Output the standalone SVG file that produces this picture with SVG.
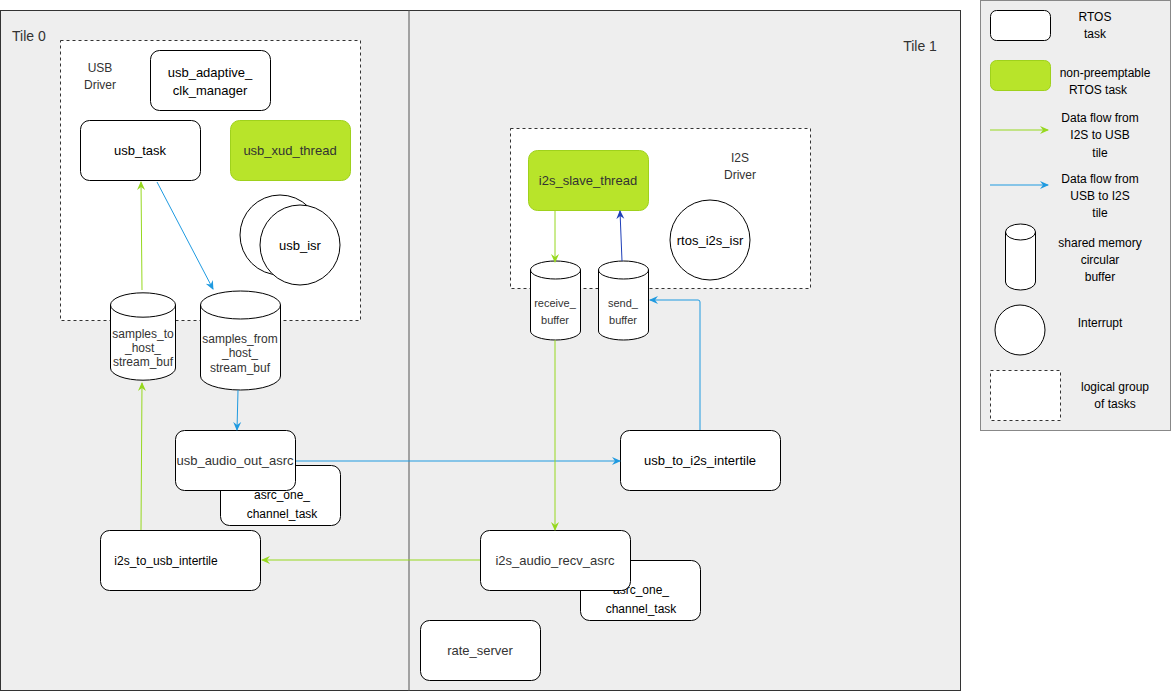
<svg xmlns="http://www.w3.org/2000/svg" width="1171" height="695" viewBox="0 0 1171 695">
<style>
text{font-family:"Liberation Sans",Arial,sans-serif;font-size:13px;fill:#000;text-anchor:middle}
.t{fill:#fff;stroke:#000;stroke-width:1}
.g{fill:#b8e42a;stroke:#9fd11c;stroke-width:1}
.d{fill:#fff;stroke:#333;stroke-dasharray:3 3}
.gl{stroke:#96d81e;fill:none}
.bl{stroke:#1f9ae0;fill:none}
.lbl{fill:#333}
.s{font-size:12px}
</style>
<defs>
<marker id="ag" markerWidth="10" markerHeight="10" refX="8" refY="5" orient="auto" markerUnits="userSpaceOnUse"><path d="M0,1 L9,5 L0,9 L3,5Z" fill="#96d81e"/></marker>
<marker id="ab" markerWidth="10" markerHeight="10" refX="8" refY="5" orient="auto" markerUnits="userSpaceOnUse"><path d="M0,1 L9,5 L0,9 L3,5Z" fill="#1f9ae0"/></marker>
<marker id="ad" markerWidth="10" markerHeight="10" refX="8" refY="5" orient="auto" markerUnits="userSpaceOnUse"><path d="M0,1 L9,5 L0,9 L3,5Z" fill="#1f3fb8"/></marker>
</defs>
<rect x="0" y="0" width="1171" height="695" fill="#fff"/>
<g id="tiles">
<rect x="0.5" y="10.5" width="960" height="680" fill="#eeeeee" stroke="#333"/>
<line x1="409" y1="10" x2="409" y2="691" stroke="#555"/>
<text x="12" y="41" style="text-anchor:start;font-size:14px" class="lbl">Tile 0</text>
<text x="920" y="51" style="font-size:14px" class="lbl">Tile 1</text>
</g>
<g id="usb_driver"><rect class="d" x="60.5" y="40.5" width="300" height="280"/><text x="100" y="72" class="lbl s">USB</text><text x="100" y="89" class="lbl s">Driver</text></g>
<g id="i2s_driver"><rect class="d" x="510.5" y="128.5" width="300" height="160"/><text x="740" y="162" class="lbl s">I2S</text><text x="740" y="179" class="lbl s">Driver</text></g>
<g id="usb_adaptive_clk_manager"><rect class="t" x="150.5" y="50.5" width="120" height="60" rx="9"/><text x="210" y="77">usb_adaptive_</text><text x="210" y="95">clk_manager</text></g>
<g id="usb_task"><rect class="t" x="80.5" y="120.5" width="120" height="60" rx="9"/><text x="140" y="155">usb_task</text></g>
<g id="usb_xud_thread"><rect class="g" x="230.5" y="120.5" width="120" height="60" rx="9"/><text x="290" y="155" class="lbl">usb_xud_thread</text></g>
<g id="usb_isr"><circle class="t" cx="280" cy="235" r="40" stroke="#333"/><circle class="t" cx="300" cy="245" r="40" stroke="#333"/><text x="300" y="250">usb_isr</text></g>
<g id="samples_to_host_stream_buf"><path class="t" d="M110.5,305 A32,12 0 0 1 175.5,305 V368 A32,12 0 0 1 110.5,368 Z"/><path d="M110.5,305 A32,12 0 0 0 175.5,305" fill="none" stroke="#000"/><text x="143" y="338" class="lbl s">samples_to</text><text x="143" y="352" class="lbl s">_host_</text><text x="143" y="366" class="lbl s">stream_buf</text></g>
<g id="samples_from_host_stream_buf"><path class="t" d="M200.5,305 A40,14 0 0 1 280.5,305 V376 A40,14 0 0 1 200.5,376 Z"/><path d="M200.5,305 A40,14 0 0 0 280.5,305" fill="none" stroke="#000"/><text x="240" y="343" class="lbl s">samples_from</text><text x="240" y="357" class="lbl s">_host_</text><text x="240" y="372" class="lbl s">stream_buf</text></g>
<g id="asrc_one_channel_task_0"><rect class="t" x="220.5" y="465.5" width="120" height="60" rx="9"/><text x="282" y="499" class="s">asrc_one_</text><text x="282" y="518" class="s">channel_task</text></g>
<g id="usb_audio_out_asrc"><rect class="t" x="175.5" y="430.5" width="120" height="60" rx="9" stroke="#333"/><text x="235" y="465" class="lbl">usb_audio_out_asrc</text></g>
<g id="i2s_to_usb_intertile"><rect class="t" x="100.5" y="530.5" width="160" height="60" rx="9" stroke="#333"/><text x="166" y="565" class="s">i2s_to_usb_intertile</text></g>
<g id="i2s_slave_thread"><rect class="g" x="528.5" y="150.5" width="120" height="60" rx="9"/><text x="588" y="185" class="lbl">i2s_slave_thread</text></g>
<g id="rtos_i2s_isr"><circle class="t" cx="710" cy="240" r="40" stroke="#333"/><text x="710" y="245">rtos_i2s_isr</text></g>
<g id="receive_buffer"><path class="t" d="M530.5,270 A25,9 0 0 1 580.5,270 V331 A25,9 0 0 1 530.5,331 Z"/><path d="M530.5,270 A25,9 0 0 0 580.5,270" fill="none" stroke="#000"/><text x="555" y="307" class="lbl" style="font-size:11px">receive_</text><text x="555" y="324" class="lbl" style="font-size:11px">buffer</text></g>
<g id="send_buffer"><path class="t" d="M598.5,270 A25,9 0 0 1 648.5,270 V331 A25,9 0 0 1 598.5,331 Z"/><path d="M598.5,270 A25,9 0 0 0 648.5,270" fill="none" stroke="#000"/><text x="623" y="307" class="lbl" style="font-size:11px">send_</text><text x="623" y="324" class="lbl" style="font-size:11px">buffer</text></g>
<g id="usb_to_i2s_intertile"><rect class="t" x="620.5" y="430.5" width="160" height="60" rx="9" stroke="#333"/><text x="700" y="465">usb_to_i2s_intertile</text></g>
<g id="asrc_one_channel_task_1"><rect class="t" x="580.5" y="560.5" width="120" height="60" rx="9"/><text x="641" y="594" class="s">asrc_one_</text><text x="641" y="613" class="s">channel_task</text></g>
<g id="i2s_audio_recv_asrc"><rect class="t" x="480.5" y="530.5" width="150" height="60" rx="9" stroke="#333"/><text x="555" y="565" class="lbl">i2s_audio_recv_asrc</text></g>
<g id="rate_server"><rect class="t" x="420.5" y="620.5" width="120" height="60" rx="9" stroke="#333"/><text x="480" y="655" class="lbl">rate_server</text></g>
<g id="connectors">
<line class="gl" x1="142" y1="290" x2="141" y2="182" marker-end="url(#ag)"/>
<line class="bl" x1="157" y1="182" x2="213" y2="289" marker-end="url(#ab)"/>
<line class="gl" x1="141" y1="530" x2="142" y2="383" marker-end="url(#ag)"/>
<line class="bl" x1="238" y1="390" x2="237" y2="430" marker-end="url(#ab)"/>
<line class="bl" x1="296" y1="461" x2="620" y2="461" marker-end="url(#ab)"/>
<line class="gl" x1="480" y1="560" x2="262" y2="560" marker-end="url(#ag)"/>
<line class="gl" x1="555" y1="340" x2="555" y2="530" marker-end="url(#ag)" stroke="#a8c870"/>
<line class="gl" x1="555" y1="211" x2="555" y2="262" marker-end="url(#ag)"/>
<line x1="622" y1="261" x2="620" y2="211" stroke="#1f3fb8" marker-end="url(#ad)"/>
<path class="bl" d="M700,430 V302 Q700,300 698,300 H650" marker-end="url(#ab)"/>
</g>
<g id="legend">
<rect x="980.5" y="0.5" width="190" height="430" fill="#eeeeee" stroke="#888"/>
<rect class="t" x="990.5" y="10.5" width="60" height="30" rx="6"/><text x="1095" y="21" class="s">RTOS</text><text x="1095" y="38" class="s">task</text>
<rect class="g" x="990.5" y="60.5" width="60" height="30" rx="6"/><text x="1105" y="77" class="s">non-preemptable</text><text x="1098" y="94" class="s">RTOS task</text>
<line class="gl" x1="990" y1="130" x2="1048" y2="130" marker-end="url(#ag)"/><text x="1100" y="122" class="s">Data flow from</text><text x="1100" y="139" class="s">I2S to USB</text><text x="1100" y="157" class="s">tile</text>
<line class="bl" x1="990" y1="185" x2="1048" y2="185" marker-end="url(#ab)"/><text x="1100" y="183" class="s">Data flow from</text><text x="1100" y="200" class="s">USB to I2S</text><text x="1100" y="217" class="s">tile</text>
<path class="t" d="M1005.5,232 A15,8 0 0 1 1035.5,232 V282 A15,8 0 0 1 1005.5,282 Z"/><path d="M1005.5,232 A15,8 0 0 0 1035.5,232" fill="none" stroke="#000"/>
<text x="1100" y="247" class="s">shared memory</text><text x="1100" y="264" class="s">circular</text><text x="1100" y="281" class="s">buffer</text>
<circle class="t" cx="1020" cy="330" r="25"/><text x="1100" y="327" class="s">Interrupt</text>
<rect class="d" x="990.5" y="370.5" width="70" height="50" fill="#fff"/><text x="1115" y="391" class="s">logical group</text><text x="1115" y="408" class="s">of tasks</text>
</g>
</svg>
